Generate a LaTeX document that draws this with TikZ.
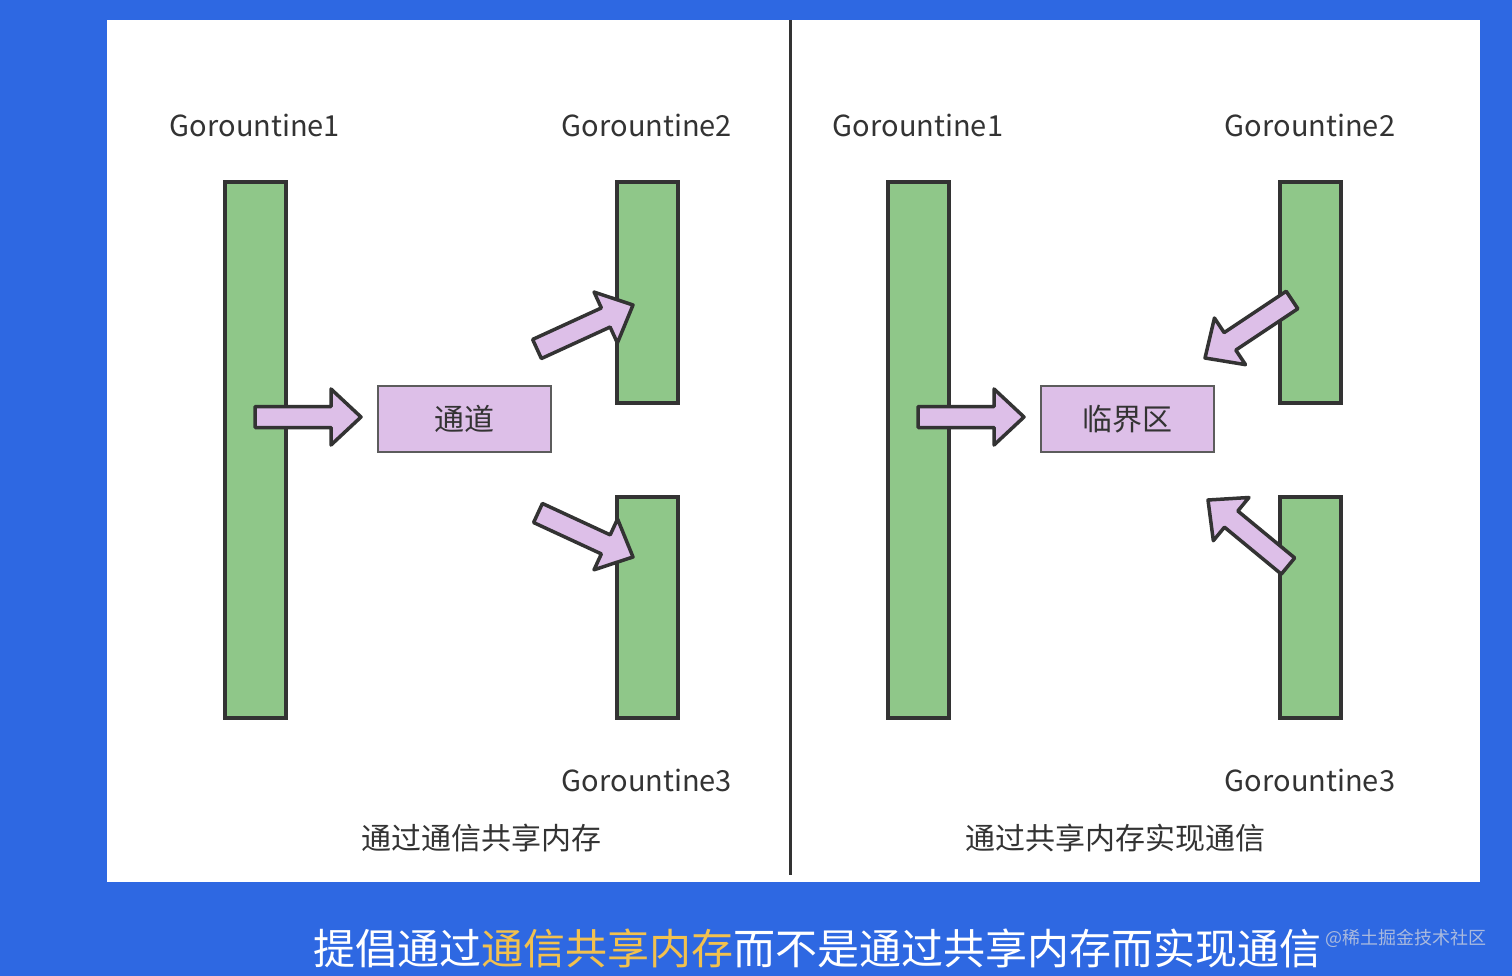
\documentclass[tikz,border=0pt]{standalone}
\usepackage{fontspec}
\setmainfont{Noto Sans CJK SC}
\usetikzlibrary{positioning, calc}

\definecolor{bgblue}{RGB}{46,104,226}
\definecolor{bargreen}{RGB}{143,199,137}
\definecolor{lilac}{RGB}{221,191,232}
\definecolor{inkgray}{RGB}{51,51,51}
\definecolor{capgold}{RGB}{242,193,78}
\definecolor{markgray}{RGB}{170,186,222}

% fat block arrow from tail (#1) to tip (#2)
\newcommand{\blockarrow}[2]{%
  \coordinate (hb) at ($(#2)!30pt!(#1)$);
  \draw[fat] ($(#1)!10.5pt!90:(#2)$) -- ($(hb)!10.5pt!90:(#2)$) -- ($(hb)!28pt!90:(#2)$) -- (#2)
    -- ($(hb)!28pt!-90:(#2)$) -- ($(hb)!10.5pt!-90:(#2)$) -- ($(#1)!10.5pt!-90:(#2)$) -- cycle;}

\begin{document}
\begin{tikzpicture}[x=1pt, y=-1pt,
        bar/.style={rectangle, draw=inkgray, line width=3.5pt, fill=bargreen, minimum width=61pt, inner sep=0pt},
        hub/.style={rectangle, draw=inkgray!80, line width=2.5pt, fill=lilac, minimum width=173pt, minimum height=66pt, font=\fontsize{30}{36}\selectfont, text=inkgray},
        gtext/.style={font=\fontsize{29}{35}\selectfont, text=inkgray},
        captext/.style={font=\fontsize{30}{36}\selectfont, text=inkgray},
        fat/.style={draw=inkgray, line width=3.5pt, fill=lilac, line join=round}
        ]
        \useasboundingbox (0,0) rectangle (1512,976);
        \fill[bgblue] (0,0) rectangle (1512,976);
        \fill[white] (107,20) rectangle (1480,882);
        \draw[inkgray, line width=3pt] (790,20) -- (790,875);

        % left: channel
        \node[bar, minimum height=536pt] (g1) at (255.5,450) {};
        \node[bar, minimum height=221pt] (g2) at (647.5,292.5) {};
        \node[bar, minimum height=221pt] (g3) at (647.5,607.5) {};
        \node[hub] (chan) at (464.5,419) {通道};
        \node[gtext] (g1name) at (255,125) {Gorountine1};
        \node[gtext] (g2name) at (647,125) {Gorountine2};
        \node[gtext] (g3name) at (647,780) {Gorountine3};
        \node[captext] (leftcap) at (481,838) {通过通信共享内存};

        \coordinate (a1s) at (255,417);  \coordinate (a1e) at (361,417);
        \coordinate (a2s) at (537,349);  \coordinate (a2e) at (633,305);
        \coordinate (a3s) at (538,513);  \coordinate (a3e) at (633,557);
        \blockarrow{a1s}{a1e}
        \blockarrow{a2s}{a2e}
        \blockarrow{a3s}{a3e}

        % right: critical section
        \node[bar, minimum height=536pt] (r1) at (918.5,450) {};
        \node[bar, minimum height=221pt] (r2) at (1310.5,292.5) {};
        \node[bar, minimum height=221pt] (r3) at (1310.5,607.5) {};
        \node[hub] (crit) at (1127.5,419) {临界区};
        \node[gtext] (r1name) at (918,125) {Gorountine1};
        \node[gtext] (r2name) at (1310,125) {Gorountine2};
        \node[gtext] (r3name) at (1310,780) {Gorountine3};
        \node[captext] (rightcap) at (1115,838) {通过共享内存实现通信};

        \coordinate (a4s) at (918,417);   \coordinate (a4e) at (1024,417);
        \coordinate (a5s) at (1292,300);  \coordinate (a5e) at (1205,358);
        \coordinate (a6s) at (1288,566);  \coordinate (a6e) at (1208,500);
        \blockarrow{a4s}{a4e}
        \blockarrow{a5s}{a5e}
        \blockarrow{a6s}{a6e}

        % caption
        \node[font=\fontsize{42}{48}\selectfont, text=white] (motto) at (817.5,948) {提倡通过\textcolor{capgold}{通信共享内存}而不是通过共享内存而实现通信};
        \node[font=\fontsize{18}{20}\selectfont, text=markgray, anchor=west] (mark) at (1322,938) {@稀土掘金技术社区};
    \end{tikzpicture}
\end{document}
